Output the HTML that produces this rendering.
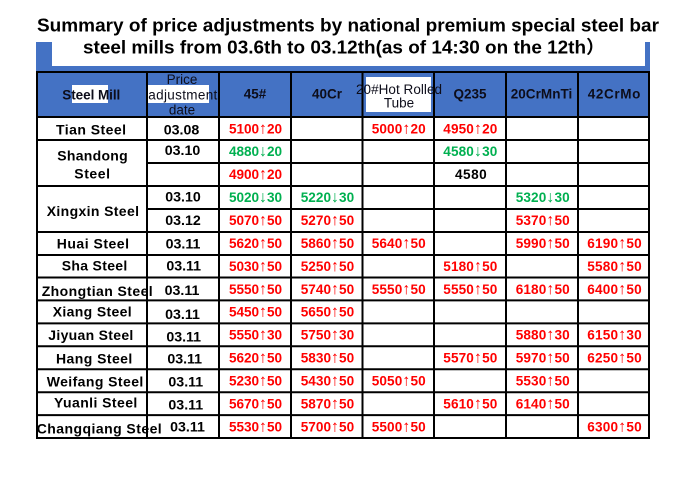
<!DOCTYPE html>
<html><head><meta charset="utf-8">
<style>
html,body{margin:0;padding:0;background:#fff;}
svg{display:block;}
.t{font-family:"Liberation Sans","Noto Sans CJK SC",sans-serif;font-weight:bold;fill:#000;}
.h{font-family:"Liberation Sans",sans-serif;font-weight:bold;font-size:13.5px;fill:#0d0d1a;}
.hr{font-family:"Liberation Sans",sans-serif;font-size:13.5px;fill:#0d0d1a;}
.n{font-family:"Liberation Sans",sans-serif;font-weight:bold;font-size:14px;fill:#000;}
.d{font-family:"Liberation Sans",sans-serif;font-weight:bold;font-size:14.2px;fill:#000;}
.v{font-family:"Liberation Sans","DejaVu Sans",sans-serif;font-weight:bold;font-size:13.6px;}
.v tspan{font-size:16px;font-weight:normal;}
.r{fill:#ff0000;}
.g{fill:#00b050;}
.k{fill:#000;}
</style></head>
<body>
<svg width="690" height="490" viewBox="0 0 690 490" xmlns="http://www.w3.org/2000/svg">
<rect x="0" y="0" width="690" height="490" fill="#fff"/>
<rect x="36" y="42" width="614" height="75" fill="#4472c4"/>
<rect x="52" y="42" width="593" height="24" fill="#fff"/>
<text class="t" x="37" y="31.7" font-size="18" textLength="622" lengthAdjust="spacingAndGlyphs">Summary of price adjustments by national premium special steel bar</text>
<text class="t" x="83" y="53.3" font-size="18" textLength="522" lengthAdjust="spacingAndGlyphs">steel mills from 03.6th to 03.12th(as of 14:30 on the 12th）</text>

<rect x="72" y="85" width="36" height="18" fill="#fff"/>
<rect x="148" y="85" width="61" height="18" fill="#fff"/>
<rect x="366" y="77" width="65" height="35" fill="#fff"/>

<g stroke="#000" stroke-width="2" fill="none">
<line x1="36" y1="72" x2="650" y2="72"/>
<line x1="36" y1="117" x2="650" y2="117"/>
<line x1="36" y1="140" x2="650" y2="140"/>
<line x1="147" y1="163" x2="650" y2="163"/>
<line x1="36" y1="186" x2="650" y2="186"/>
<line x1="147" y1="209" x2="650" y2="209"/>
<line x1="36" y1="232" x2="650" y2="232"/>
<line x1="36" y1="255" x2="650" y2="255"/>
<line x1="36" y1="277.5" x2="650" y2="277.5"/>
<line x1="36" y1="300.4" x2="650" y2="300.4"/>
<line x1="36" y1="323.4" x2="650" y2="323.4"/>
<line x1="36" y1="346.3" x2="650" y2="346.3"/>
<line x1="36" y1="369.2" x2="650" y2="369.2"/>
<line x1="36" y1="392.2" x2="650" y2="392.2"/>
<line x1="36" y1="415.1" x2="650" y2="415.1"/>
<line x1="36" y1="438" x2="650" y2="438"/>
<line x1="37" y1="72" x2="37" y2="439"/>
<line x1="147" y1="72" x2="147" y2="439"/>
<line x1="219" y1="72" x2="219" y2="439"/>
<line x1="291" y1="72" x2="291" y2="439"/>
<line x1="362.5" y1="72" x2="362.5" y2="439"/>
<line x1="434" y1="72" x2="434" y2="439"/>
<line x1="506" y1="72" x2="506" y2="439"/>
<line x1="578" y1="72" x2="578" y2="439"/>
<line x1="649" y1="72" x2="649" y2="439"/>
</g>

<text class="h" x="62.3" y="99.5" font-size="12.5" textLength="58">Steel Mill</text>
<text class="hr" x="182" y="84" text-anchor="middle">Price</text>
<text class="hr" x="148.3" y="99.5" textLength="69">adjustment</text>
<text class="hr" x="182" y="114.5" text-anchor="middle">date</text>
<text class="h" x="255" y="98.5" text-anchor="middle">45#</text>
<text class="h" x="327" y="98.5" text-anchor="middle">40Cr</text>
<text class="hr" x="356" y="94" textLength="86">20#Hot Rolled</text>
<text class="hr" x="399" y="107.7" text-anchor="middle">Tube</text>
<text class="h" x="470" y="98.5" text-anchor="middle">Q235</text>
<text class="h" x="510.7" y="98.5" textLength="61.6">20CrMnTi</text>
<text class="h" x="587.7" y="98.5" textLength="52.7">42CrMo</text>

<text class="n" x="56" y="134.3" textLength="70">Tian Steel</text>
<text class="n" x="57.3" y="160.7" textLength="70.4">Shandong</text>
<text class="n" x="74.3" y="178.3" textLength="35.7">Steel</text>
<text class="n" x="46.7" y="216" textLength="92.3">Xingxin Steel</text>
<text class="n" x="56.7" y="248.3" textLength="72.3">Huai Steel</text>
<text class="n" x="61.7" y="270.7" textLength="65.6">Sha Steel</text>
<text class="n" x="41.7" y="296" textLength="111">Zhongtian Steel</text>
<text class="n" x="52.7" y="316.7" textLength="79">Xiang Steel</text>
<text class="n" x="48.3" y="340" textLength="85">Jiyuan Steel</text>
<text class="n" x="56" y="363.3" textLength="76.3">Hang Steel</text>
<text class="n" x="46.7" y="386.7" textLength="96.6">Weifang Steel</text>
<text class="n" x="54" y="407.3" textLength="83.3">Yuanli Steel</text>
<text class="n" x="36.7" y="433.3" textLength="125">Changqiang Steel</text>

<g class="d" text-anchor="middle">
<text x="181.5" y="134.3">03.08</text>
<text x="182.5" y="155">03.10</text>
<text x="183" y="201.7">03.10</text>
<text x="183" y="225">03.12</text>
<text x="183" y="248.3">03.11</text>
<text x="183.7" y="270.7">03.11</text>
<text x="182" y="295">03.11</text>
<text x="182.5" y="319">03.11</text>
<text x="183.7" y="341.7">03.11</text>
<text x="184.7" y="363.3">03.11</text>
<text x="185.8" y="386.7">03.11</text>
<text x="185.8" y="409.3">03.11</text>
<text x="187.5" y="431.7">03.11</text>
</g>

<g class="v">
<text class="r" x="229" y="133.3" textLength="53">5100<tspan>↑</tspan>20</text>
<text class="r" x="371.7" y="133.3" textLength="54">5000<tspan>↑</tspan>20</text>
<text class="r" x="443.3" y="133.3" textLength="54">4950<tspan>↑</tspan>20</text>

<text class="g" x="229" y="156.2" textLength="53">4880<tspan>↓</tspan>20</text>
<text class="g" x="443.3" y="156.2" textLength="54">4580<tspan>↓</tspan>30</text>

<text class="r" x="229" y="179.2" textLength="53">4900<tspan>↑</tspan>20</text>
<text class="k" x="455" y="179.2" textLength="31.7">4580</text>

<text class="g" x="229" y="202.1" textLength="53">5020<tspan>↓</tspan>30</text>
<text class="g" x="300.7" y="202.1" textLength="53.5">5220<tspan>↓</tspan>30</text>
<text class="g" x="515.7" y="202.1" textLength="54">5320<tspan>↓</tspan>30</text>

<text class="r" x="229" y="225" textLength="53">5070<tspan>↑</tspan>50</text>
<text class="r" x="300.7" y="225" textLength="53.5">5270<tspan>↑</tspan>50</text>
<text class="r" x="515.7" y="225" textLength="54">5370<tspan>↑</tspan>50</text>

<text class="r" x="229" y="247.9" textLength="53">5620<tspan>↑</tspan>50</text>
<text class="r" x="300.7" y="247.9" textLength="53.5">5860<tspan>↑</tspan>50</text>
<text class="r" x="371.7" y="247.9" textLength="54">5640<tspan>↑</tspan>50</text>
<text class="r" x="515.7" y="247.9" textLength="54">5990<tspan>↑</tspan>50</text>
<text class="r" x="587.3" y="247.9" textLength="54.4">6190<tspan>↑</tspan>50</text>

<text class="r" x="229" y="270.9" textLength="53">5030<tspan>↑</tspan>50</text>
<text class="r" x="300.7" y="270.9" textLength="53.5">5250<tspan>↑</tspan>50</text>
<text class="r" x="443.3" y="270.9" textLength="54">5180<tspan>↑</tspan>50</text>
<text class="r" x="587.3" y="270.9" textLength="54.4">5580<tspan>↑</tspan>50</text>

<text class="r" x="229" y="293.8" textLength="53">5550<tspan>↑</tspan>50</text>
<text class="r" x="300.7" y="293.8" textLength="53.5">5740<tspan>↑</tspan>50</text>
<text class="r" x="371.7" y="293.8" textLength="54">5550<tspan>↑</tspan>50</text>
<text class="r" x="443.3" y="293.8" textLength="54">5550<tspan>↑</tspan>50</text>
<text class="r" x="515.7" y="293.8" textLength="54">6180<tspan>↑</tspan>50</text>
<text class="r" x="587.3" y="293.8" textLength="54.4">6400<tspan>↑</tspan>50</text>

<text class="r" x="229" y="316.7" textLength="53">5450<tspan>↑</tspan>50</text>
<text class="r" x="300.7" y="316.7" textLength="53.5">5650<tspan>↑</tspan>50</text>

<text class="r" x="229" y="339.6" textLength="53">5550<tspan>↑</tspan>30</text>
<text class="r" x="300.7" y="339.6" textLength="53.5">5750<tspan>↑</tspan>30</text>
<text class="r" x="515.7" y="339.6" textLength="54">5880<tspan>↑</tspan>30</text>
<text class="r" x="587.3" y="339.6" textLength="54.4">6150<tspan>↑</tspan>30</text>

<text class="r" x="229" y="362.6" textLength="53">5620<tspan>↑</tspan>50</text>
<text class="r" x="300.7" y="362.6" textLength="53.5">5830<tspan>↑</tspan>50</text>
<text class="r" x="443.3" y="362.6" textLength="54">5570<tspan>↑</tspan>50</text>
<text class="r" x="515.7" y="362.6" textLength="54">5970<tspan>↑</tspan>50</text>
<text class="r" x="587.3" y="362.6" textLength="54.4">6250<tspan>↑</tspan>50</text>

<text class="r" x="229" y="385.6" textLength="53">5230<tspan>↑</tspan>50</text>
<text class="r" x="300.7" y="385.6" textLength="53.5">5430<tspan>↑</tspan>50</text>
<text class="r" x="371.7" y="385.6" textLength="54">5050<tspan>↑</tspan>50</text>
<text class="r" x="515.7" y="385.6" textLength="54">5530<tspan>↑</tspan>50</text>

<text class="r" x="229" y="408.4" textLength="53">5670<tspan>↑</tspan>50</text>
<text class="r" x="300.7" y="408.4" textLength="53.5">5870<tspan>↑</tspan>50</text>
<text class="r" x="443.3" y="408.4" textLength="54">5610<tspan>↑</tspan>50</text>
<text class="r" x="515.7" y="408.4" textLength="54">6140<tspan>↑</tspan>50</text>

<text class="r" x="229" y="431.6" textLength="53">5530<tspan>↑</tspan>50</text>
<text class="r" x="300.7" y="431.6" textLength="53.5">5700<tspan>↑</tspan>50</text>
<text class="r" x="371.7" y="431.6" textLength="54">5500<tspan>↑</tspan>50</text>
<text class="r" x="587.3" y="431.6" textLength="54.4">6300<tspan>↑</tspan>50</text>
</g>
</svg>
</body></html>
